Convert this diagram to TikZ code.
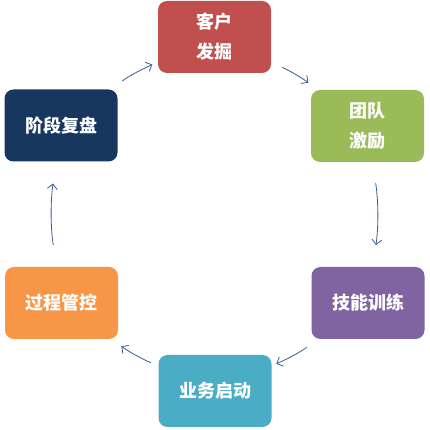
\documentclass[tikz,border=0pt]{standalone}
\usepackage{fontspec}
\newfontfamily\cjk{Noto Sans CJK SC}
\usetikzlibrary{positioning,arrows.meta}
\definecolor{cCust}{HTML}{C0504D}
\definecolor{cTeam}{HTML}{9BBB59}
\definecolor{cSkill}{HTML}{8064A2}
\definecolor{cBiz}{HTML}{4BACC6}
\definecolor{cProc}{HTML}{F79646}
\definecolor{cReview}{HTML}{17375E}
\definecolor{cArrow}{HTML}{3A5D8F}
\tikzset{
  base/.style   ={rounded corners=9pt, align=center, text=white,
                  font=\cjk\bfseries\fontsize{18}{30}\selectfont,
                  minimum width=113pt, minimum height=72pt, inner sep=0pt},
  custnode/.style  ={base, fill=cCust},
  teamnode/.style  ={base, fill=cTeam},
  skillnode/.style ={base, fill=cSkill},
  biznode/.style   ={base, fill=cBiz},
  procnode/.style  ={base, fill=cProc},
  revnode/.style   ={base, fill=cReview},
  arr/.style    ={-{Straight Barb[length=5pt,width=10pt]}, line width=0.8pt, draw=cArrow},
}
\begin{document}
\begin{tikzpicture}[x=1pt,y=1pt]
\useasboundingbox (0,0) rectangle (430,430);
\node[custnode]  (cust)  at (214.5,393) {客户\\ 发掘};
\node[teamnode]  (team)  at (367.5,304) {团队\\ 激励};
\node[skillnode] (skill) at (368,127)   {技能训练};
\node[biznode]   (biz)   at (215,39)    {业务启动};
\node[procnode]  (proc)  at (61.5,127)  {过程管控};
\node[revnode]   (rev)   at (61,304.5)  {阶段复盘};

\draw[arr, shorten <=12pt, shorten >=12pt] (cust)  to[bend left=6] (team);
\draw[arr, shorten <=21pt, shorten >=22pt] (team)  to[bend left=8] (skill);
\draw[arr, shorten <=14pt, shorten >=5pt]  (skill) to[bend left=6] (biz);
\draw[arr, shorten <=8pt, shorten >=12pt]  (biz)   to[bend left=6] (proc);
\draw[arr, shorten <=22pt, shorten >=22pt] (proc)  to[bend left=8] (rev);
\draw[arr, shorten <=14pt, shorten >=6pt]  (rev)   to[bend left=6] (cust);
\end{tikzpicture}
\end{document}
